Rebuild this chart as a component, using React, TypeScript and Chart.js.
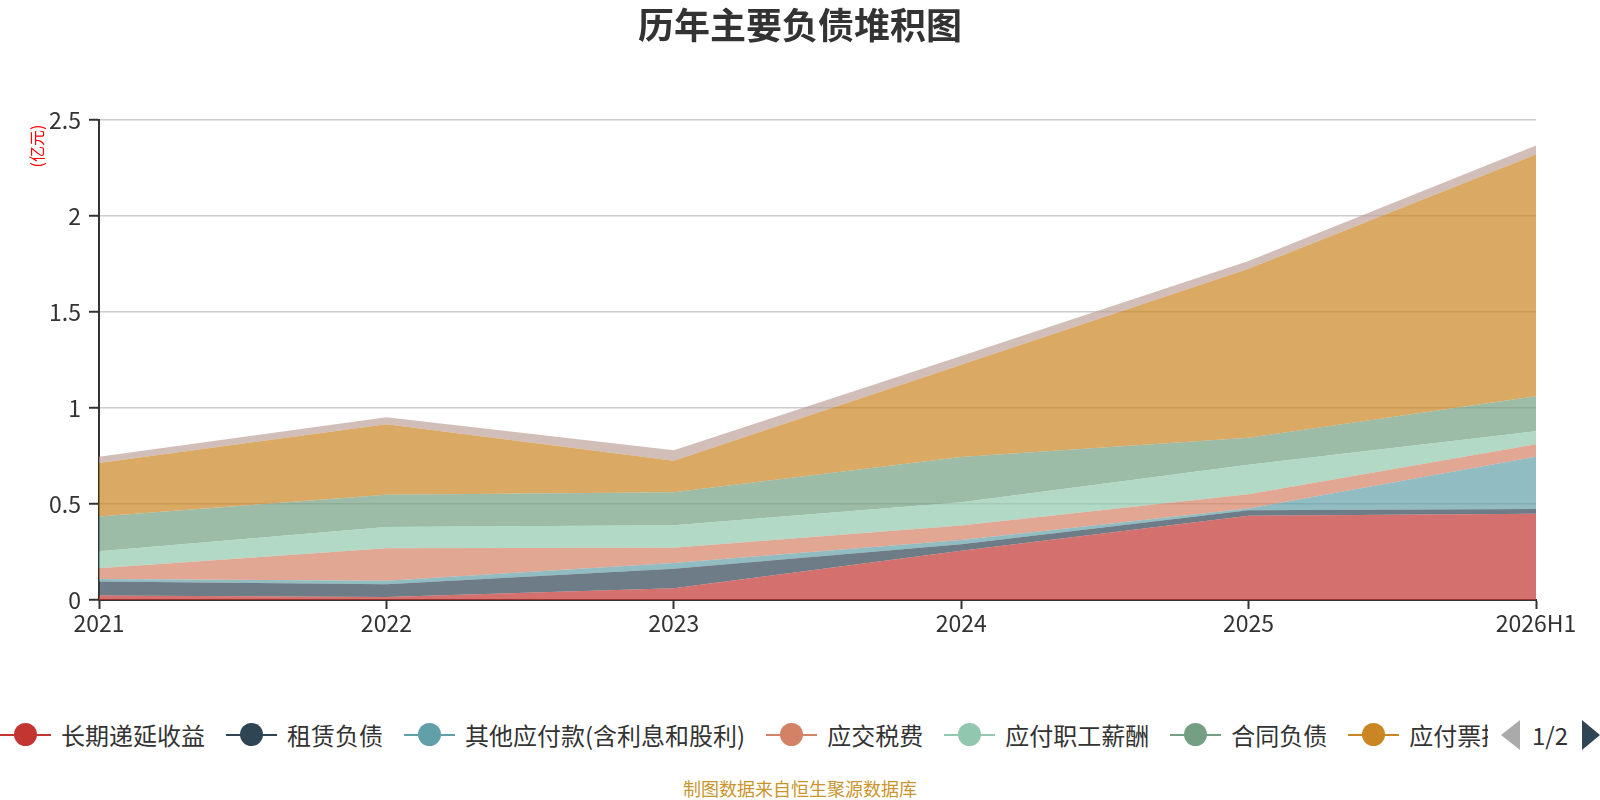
import { useEffect, useRef } from "react";
import { Chart, registerables } from "chart.js";

Chart.register(...registerables);

const FONT = '"Noto Sans CJK SC", "Noto Sans", sans-serif';

const years = ["2021", "2022", "2023", "2024", "2025", "2026H1"];

// 亿元, stacked bottom to top
const deferredIncome = [0.023, 0.016, 0.061, 0.257, 0.439, 0.449];
const leaseLiab = [0.073, 0.066, 0.102, 0.033, 0.028, 0.025];
const otherPayables = [0.014, 0.018, 0.03, 0.023, 0.01, 0.272];
const taxesPayable = [0.055, 0.17, 0.079, 0.075, 0.074, 0.065];
const payroll = [0.089, 0.11, 0.117, 0.121, 0.154, 0.068];
const contractLiab = [0.181, 0.169, 0.172, 0.236, 0.141, 0.182];
const billsPayable = [0.279, 0.367, 0.164, 0.481, 0.88, 1.26];
const otherCurrent = [0.032, 0.036, 0.055, 0.045, 0.04, 0.047];

const yTicks = [0, 0.5, 1, 1.5, 2, 2.5];

const series = [
  { name: "长期递延收益", color: "#c23531", data: deferredIncome },
  { name: "租赁负债", color: "#2f4554", data: leaseLiab },
  { name: "其他应付款(含利息和股利)", color: "#61a0a8", data: otherPayables },
  { name: "应交税费", color: "#d48265", data: taxesPayable },
  { name: "应付职工薪酬", color: "#91c7ae", data: payroll },
  { name: "合同负债", color: "#749f83", data: contractLiab },
  { name: "应付票据及应付账款", color: "#ca8622", data: billsPayable },
  { name: "其他流动负债", color: "#bda29a", data: otherCurrent },
];

function hexA(hex: string, a: number) {
  const n = parseInt(hex.slice(1), 16);
  return `rgba(${(n >> 16) & 255}, ${(n >> 8) & 255}, ${n & 255}, ${a})`;
}

const unitLabel = {
  id: "unitLabel",
  afterDraw(chart: any) {
    const ctx = chart.ctx;
    ctx.save();
    ctx.translate(37, 146);
    ctx.rotate(-Math.PI / 2);
    ctx.font = `16px ${FONT}`;
    ctx.fillStyle = "#ff0000";
    ctx.textAlign = "center";
    ctx.textBaseline = "middle";
    ctx.fillText("(亿元)", 0, 0);
    ctx.restore();
  },
};

function LiabilityChart() {
  const canvasRef = useRef<HTMLCanvasElement>(null);
  const chartRef = useRef<Chart | null>(null);

  useEffect(() => {
    if (!canvasRef.current) return;
    const ctx = canvasRef.current.getContext("2d");
    if (!ctx) return;

    chartRef.current = new Chart(ctx, {
      type: "line",
      data: {
        labels: years,
        datasets: series.map((s, i) => ({
          label: s.name,
          data: s.data,
          borderColor: s.color,
          borderWidth: 0,
          backgroundColor: hexA(s.color, 0.7),
          fill: i === 0 ? "origin" : "-1",
          pointRadius: 0,
          tension: 0,
        })),
      },
      options: {
        animation: false,
        responsive: true,
        maintainAspectRatio: false,
        layout: { padding: 0 },
        plugins: {
          legend: { display: false },
          tooltip: { enabled: false },
          title: {
            display: true,
            text: "历年主要负债堆积图",
            color: "#333",
            font: { size: 36, weight: "bold", family: FONT },
            padding: { top: 4, bottom: 73 },
          },
        },
        scales: {
          x: {
            offset: false,
            afterFit: (scale: any) => {
              scale.height = 60;
              scale.paddingRight = 64;
            },
            grid: {
              drawOnChartArea: false,
              drawTicks: true,
              tickLength: 9,
              tickColor: "#333",
              tickWidth: 2,
            },
            border: { color: "#333", width: 2 },
            ticks: {
              color: "#333",
              padding: 0,
              maxRotation: 0,
              font: { size: 23, family: FONT },
            },
          },
          y: {
            stacked: true,
            min: 0,
            max: 2.5,
            afterFit: (scale: any) => {
              scale.width = 99;
            },
            afterBuildTicks: (scale: any) => {
              scale.ticks = yTicks.map((v) => ({ value: v }));
            },
            grid: {
              color: "#cccccc",
              lineWidth: 1.5,
              tickLength: 10,
              tickColor: "#333",
              tickWidth: 2,
            },
            border: { color: "#333", width: 2 },
            ticks: {
              color: "#333",
              padding: 8,
              font: { size: 23, family: FONT },
              callback: (v: any) => String(v),
            },
          },
        },
      },
      plugins: [unitLabel],
    });

    return () => {
      if (chartRef.current) {
        chartRef.current.destroy();
        chartRef.current = null;
      }
    };
  }, []);

  return (
    <div style={{ position: "absolute", left: 0, top: 0, width: 1600, height: 660 }}>
      <canvas ref={canvasRef} />
    </div>
  );
}

export default function App() {
  return (
    <div
      style={{
        position: "absolute",
        left: 0,
        top: 0,
        width: 1600,
        height: 800,
        background: "#fff",
        fontFamily: FONT,
        overflow: "hidden",
      }}
    >
      <LiabilityChart />

      {/* Legend, page 1 of 2 */}
      <div
        style={{
          position: "absolute",
          left: 0,
          top: 717,
          width: 1488,
          height: 36,
          overflow: "hidden",
          display: "flex",
          alignItems: "center",
          whiteSpace: "nowrap",
          gap: 21,
        }}
      >
        {series.map((s) => (
          <div key={s.name} style={{ display: "flex", alignItems: "center", flexShrink: 0 }}>
            <span style={{ position: "relative", width: 51, height: 24, marginRight: 10 }}>
              <span
                style={{
                  position: "absolute",
                  left: 0,
                  top: 11,
                  width: 51,
                  height: 2,
                  background: s.color,
                }}
              />
              <span
                style={{
                  position: "absolute",
                  left: 14,
                  top: 0,
                  width: 23,
                  height: 23,
                  borderRadius: "50%",
                  background: s.color,
                }}
              />
            </span>
            <span style={{ fontSize: 24, color: "#333", lineHeight: "36px" }}>{s.name}</span>
          </div>
        ))}
      </div>

      {/* Pager */}
      <div
        style={{
          position: "absolute",
          left: 1501,
          top: 720,
          width: 0,
          height: 0,
          borderTop: "15px solid transparent",
          borderBottom: "15px solid transparent",
          borderRight: "19px solid #aaa",
        }}
      />
      <div
        style={{
          position: "absolute",
          left: 1532,
          top: 717,
          fontSize: 24,
          lineHeight: "36px",
          color: "#333",
        }}
      >
        1/2
      </div>
      <div
        style={{
          position: "absolute",
          left: 1582,
          top: 720,
          width: 0,
          height: 0,
          borderTop: "15px solid transparent",
          borderBottom: "15px solid transparent",
          borderLeft: "18px solid #2f4554",
        }}
      />

      <div
        style={{
          position: "absolute",
          left: 0,
          top: 776,
          width: 1600,
          textAlign: "center",
          fontSize: 18,
          lineHeight: "24px",
          color: "#c9952e",
        }}
      >
        制图数据来自恒生聚源数据库
      </div>
    </div>
  );
}
